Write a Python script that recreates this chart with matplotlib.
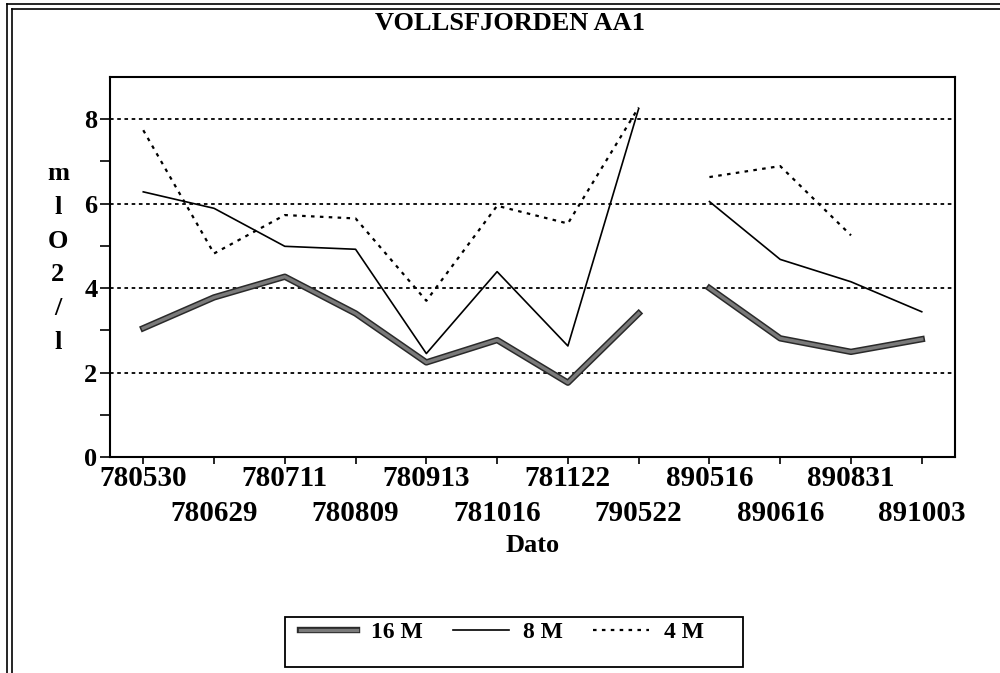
import matplotlib
matplotlib.use("Agg")
import matplotlib.pyplot as plt
import matplotlib.patheffects as pe
from matplotlib.lines import Line2D
from matplotlib.patches import Rectangle
import numpy as np

plt.rcParams['font.family'] = ['Liberation Serif', 'DejaVu Serif']
plt.rcParams['font.weight'] = 'bold'

title = "VOLLSFJORDEN AA1"
dates = ["780530", "780629", "780711", "780809", "780913", "781016",
         "781122", "790522", "890516", "890616", "890831", "891003"]
m16 = [3.05, 3.78, 4.27, 3.40, 2.24, 2.77, 1.76, 3.40, 4.00, 2.81, 2.49, 2.79]
m8 = [6.28, 5.89, 4.99, 4.92, 2.45, 4.39, 2.63, 8.25, 6.05, 4.68, 4.15, 3.44]
m4 = [7.74, 4.82, 5.73, 5.65, 3.70, 5.95, 5.53, 8.28, 6.63, 6.89, 5.25, np.nan]
series_labels = ["16 M", "8 M", "4 M"]
yticks_major = [0, 2, 4, 6, 8]
yticks_minor = [1, 3, 5, 7]
split = 8  # break between 790522 and 890516

W, H = 1000, 673
fig = plt.figure(figsize=(W / 100, H / 100), dpi=100)
ax = fig.add_axes([110 / W, 1 - 457 / H, 845 / W, 380 / H])

x = np.arange(len(dates))
thick_fx = [pe.Stroke(linewidth=4.6, foreground='#2a2a2a'),
            pe.Normal()]
h16 = None
for sl in (slice(0, split), slice(split, None)):
    l16, = ax.plot(x[sl], np.array(m16)[sl], color='#7a7a7a', lw=2.4,
                   path_effects=thick_fx, solid_joinstyle='round')
    l8, = ax.plot(x[sl], np.array(m8)[sl], color='black', lw=1.2)
    l4, = ax.plot(x[sl], np.array(m4)[sl], color='black', lw=1.6,
                  linestyle=(0, (1.6, 2.4)))
    if h16 is None:
        h16, h8, h4 = l16, l8, l4

ax.set_xlim(-0.47, 11.47)
ax.set_ylim(0, 9)

# y ticks
ax.set_yticks(yticks_major)
ax.set_yticks(yticks_minor, minor=True)
ax.set_yticklabels([str(v) for v in yticks_major], fontsize=19, fontweight='bold')
ax.tick_params(axis='y', which='both', direction='out', length=7, width=1.2, pad=2)
for v in yticks_major[1:]:
    ax.axhline(v, color='black', lw=1.3, linestyle=(0, (2.0, 2.0)), zorder=0)

# x ticks: alternate rows using major/minor ticks
ax.set_xticks(x[::2])
ax.set_xticks(x[1::2], minor=True)
ax.set_xticklabels(dates[::2], fontsize=21, fontweight='bold')
ax.set_xticklabels(dates[1::2], minor=True, fontsize=21, fontweight='bold')
ax.tick_params(axis='x', which='major', direction='out', length=5, width=1.2, pad=1)
ax.tick_params(axis='x', which='minor', direction='out', length=5, width=1.2, pad=26)

for s in ax.spines.values():
    s.set_linewidth(1.5)

fig.text(0.51, 1 - 23 / H, title, ha='center', va='center', fontsize=19,
         fontweight='bold')
fig.text(0.533, 1 - 546 / H, "Dato", ha='center', va='center', fontsize=19,
         fontweight='bold')
fig.text(58 / W, 1 - 258 / H, "m\nl\nO\n2\n/\nl", ha='center', va='center',
         fontsize=19, fontweight='bold', linespacing=1.6)

# legend
fig.add_artist(Rectangle((285 / W, 1 - 667 / H), 458 / W, 50 / H,
                         transform=fig.transFigure, fill=False,
                         edgecolor='black', lw=1.3))
fig.legend([h16, h8, h4], series_labels, ncol=3, frameon=False,
           loc='center', bbox_to_anchor=(502 / W, 1 - 632 / H),
           prop={'family': 'Liberation Serif', 'weight': 'bold', 'size': 17},
           handlelength=2.4, handletextpad=0.6, columnspacing=1.25)

# page border (double lines, top and left)
for xx in (7, 12):
    fig.add_artist(Line2D([xx / W, xx / W], [0, 1 - (4 if xx == 7 else 9) / H],
                          transform=fig.transFigure, color='black', lw=1.2))
for yy in (4, 9):
    fig.add_artist(Line2D([(7 if yy == 4 else 12) / W, 1], [1 - yy / H, 1 - yy / H],
                          transform=fig.transFigure, color='black', lw=1.2))

fig.savefig("out.png", dpi=100)
